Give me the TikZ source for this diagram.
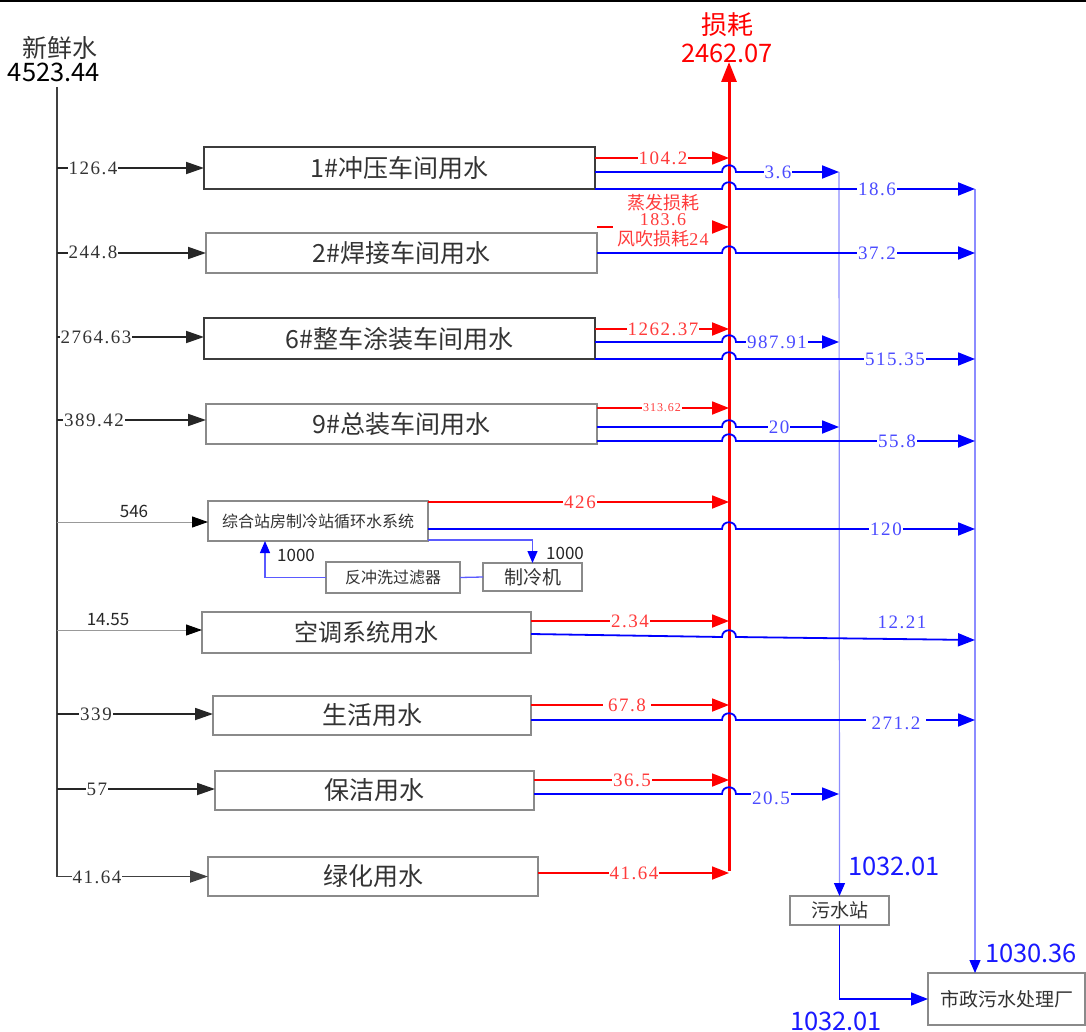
\documentclass[tikz,border=0pt]{standalone}
\usepackage{fontspec}
\usetikzlibrary{arrows.meta}
\newfontfamily\cjk{Noto Sans CJK SC}
\newfontfamily\numf[LetterSpace=8]{Liberation Serif}
\newcommand\setfs[1]{\fontsize{#1}{#1}\selectfont}
\definecolor{rd}{HTML}{FF0000}
\definecolor{rdt}{HTML}{FF3B3B}
\definecolor{bl}{HTML}{0000FF}
\definecolor{blt}{HTML}{4B4BFF}
\definecolor{blv}{HTML}{8C8CFF}
\definecolor{blm}{HTML}{5A5AFF}
\definecolor{gtxt}{HTML}{333333}
\definecolor{gbox}{HTML}{8A8A8A}
\definecolor{dbox}{HTML}{3C3C3C}
\tikzset{
  box/.style={draw=gbox,line width=1.3pt,inner sep=0pt,outer sep=0pt,text=gtxt,font=\cjk\setfs{25}},
  dbox/.style={box,draw=dbox,line width=2pt},
  inarr/.style={draw=black!85,line width=1.8pt,-{Triangle[length=18pt,width=12pt]}},
  thinin/.style={draw=black!40,line width=1pt,-{Triangle[length=16pt,width=11pt,color=black]}},
  rarr/.style={draw=rd,line width=1.8pt,-{Triangle[length=17pt,width=13pt]}},
  barr/.style={draw=bl,line width=1.8pt,-{Triangle[length=17pt,width=13pt]}},
  bv/.style={draw=blv,line width=1.2pt},
  nlab/.style={fill=white,inner sep=1pt,font=\numf\setfs{19},text=gtxt},
  rlab/.style={nlab,text=rdt},
  blab/.style={nlab,text=blt},
  slab/.style={inner sep=0pt,font=\cjk\setfs{17},text=black!85},
  biglab/.style={inner sep=0pt,font=\cjk\setfs{25.5}},
  rcjk/.style={inner sep=0pt,text=rdt,font=\cjk\setfs{18}}
}
\begin{document}
\begin{tikzpicture}[x=1pt,y=-1pt]
\useasboundingbox (0,0) rectangle (1086,1032);
\fill[white] (0,0) rectangle (1086,1032);
\draw[black,line width=2pt] (0,1) -- (1086,1);

% fresh water
\node[inner sep=0pt,font=\cjk\setfs{25},text=gtxt] (fwlab) at (60,48) {新鲜水};
\node[biglab,text=black] (fwval) at (54,72) {4523.44};
\coordinate (fwTop) at (57,87);

% loss trunk
\coordinate (lossTop) at (729,62);
\coordinate (lossBot) at (729,871);
\node[inner sep=0pt,font=\cjk\setfs{26},text=rd] (losslab) at (727,25) {损耗};

% collectors
\coordinate (sewTop) at (839,172);
\coordinate (munTop) at (975,189);

% boxes
\node[dbox,minimum width=391pt,minimum height=42pt] (b1) at (399.5,168) {1\#冲压车间用水};
\node[box,minimum width=391pt,minimum height=40pt] (b2) at (401.5,253) {2\#焊接车间用水};
\node[dbox,minimum width=391pt,minimum height=41pt] (b3) at (399.5,338.5) {6\#整车涂装车间用水};
\node[box,minimum width=391pt,minimum height=40pt] (b4) at (401.5,424) {9\#总装车间用水};
\node[box,minimum width=220pt,minimum height=40pt,font=\cjk\setfs{16}] (b5) at (318,521) {综合站房制冷站循环水系统};
\node[box,minimum width=134pt,minimum height=31pt,font=\cjk\setfs{16}] (fl) at (393,577.5) {反冲洗过滤器};
\node[box,minimum width=99pt,minimum height=28pt,font=\cjk\setfs{19}] (ch) at (532.5,577) {制冷机};
\node[box,minimum width=329pt,minimum height=41pt,font=\cjk\setfs{24}] (b6) at (366.5,632.5) {空调系统用水};
\node[box,minimum width=318pt,minimum height=39pt] (b7) at (372,715.5) {生活用水};
\node[box,minimum width=319pt,minimum height=39pt] (b8) at (374.5,790.5) {保洁用水};
\node[box,minimum width=330pt,minimum height=39pt] (b9) at (373,876.5) {绿化用水};
\node[box,minimum width=99pt,minimum height=29pt,font=\cjk\setfs{19}] (sew) at (839.5,910.5) {污水站};
\node[box,minimum width=157pt,minimum height=52pt,font=\cjk\setfs{19}] (muni) at (1006.5,999) {市政污水处理厂};

% fresh water trunk and inputs
\draw[inarr,draw=black!75] (fwTop) |- (b9.west);
\draw[inarr] (b1.west -| fwTop) -- (b1.west);
\draw[inarr] (b2.west -| fwTop) -- (b2.west);
\draw[inarr] ([yshift=1.5pt]b3.west -| fwTop) -- ([yshift=1.5pt]b3.west);
\draw[inarr] ([yshift=4pt]b4.west -| fwTop) -- ([yshift=4pt]b4.west);
\draw[thinin] ([yshift=-1pt]b5.west -| fwTop) -- ([yshift=-1pt]b5.west);
\draw[thinin] ([yshift=2.5pt]b6.west -| fwTop) -- ([yshift=2.5pt]b6.west);
\draw[inarr] ([yshift=1.5pt]b7.west -| fwTop) -- ([yshift=1.5pt]b7.west);
\draw[inarr] ([yshift=1.5pt]b8.west -| fwTop) -- ([yshift=1.5pt]b8.west);
\node[nlab] at (93,168) {126.4};
\node[nlab] at (93,252) {244.8};
\node[nlab] at (96,337) {2764.63};
\node[nlab] at (94,420) {389.42};
\node[slab] at (134,511) {546};
\node[slab] at (108,620) {14.55};
\node[nlab] at (96,714) {339};
\node[nlab] at (97,789) {57};
\node[nlab] at (97,877) {41.64};

% loss trunk arrow
\draw[draw=rd,line width=3pt,-{Triangle[length=20pt,width=15pt]}] (lossBot) -- (lossTop);
\node[biglab,text=rd] (lossval) at (727,53) {2462.07};

% collectors
\draw[bv,-{Triangle[length=13pt,width=11pt,color=bl]}] (sewTop) -- (sew.north);
\draw[bv,-{Triangle[length=13pt,width=11pt,color=bl]}] (munTop) -- (munTop |- muni.north);
\draw[barr,line width=1.6pt] (sew.south) |- (muni.west);
\node[biglab,text=bl!90] at (894,866) {1032.01};
\node[biglab,text=bl!90] at (836,1021) {1032.01};
\node[biglab,text=bl!90] at (1031,953) {1030.36};

% row 1
\draw[rarr] ([yshift=10pt]b1.east) -- ([yshift=10pt]b1.east -| lossTop);
\node[rlab] at (663,158) {104.2};
\draw[barr] ([yshift=-4pt]b1.east) -- (722,172) .. controls (722,163) and (736,163) .. (736,172) -- (sewTop);
\node[blab] at (778,172) {3.6};
\draw[barr] (b1.south east) -- (722,189) .. controls (722,180) and (736,180) .. (736,189) -- (munTop);
\node[blab] at (877,189) {18.6};

% row 2
\draw[draw=rd,line width=1.8pt] ([yshift=6pt]b2.north east) -- ([xshift=16pt,yshift=6pt]b2.north east);
\draw[rarr] ([xshift=-16pt,yshift=6pt]b2.north east -| lossTop) -- ([yshift=6pt]b2.north east -| lossTop);
\node[rcjk] at (663,203) {蒸发损耗};
\node[rcjk,font=\numf\setfs{18}] at (663,220) {183.6};
\node[rcjk] at (663,239) {风吹损耗{\numf 24}};
\draw[barr] (b2.east) -- (722,253) .. controls (722,244) and (736,244) .. (736,253) -- (b2.east -| munTop);
\node[blab] at (877,253) {37.2};

% row 3
\draw[rarr] ([yshift=9.5pt]b3.east) -- ([yshift=9.5pt]b3.east -| lossTop);
\node[rlab] at (663,329) {1262.37};
\draw[barr] ([yshift=-3.5pt]b3.east) -- (722,342) .. controls (722,333) and (736,333) .. (736,342) -- ([yshift=-3.5pt]b3.east -| sewTop);
\node[blab] at (777,342) {987.91};
\draw[barr] (b3.south east) -- (722,359) .. controls (722,350) and (736,350) .. (736,359) -- (b3.south east -| munTop);
\node[blab] at (895,359) {515.35};

% row 4
\draw[rarr] ([yshift=16pt]b4.east) -- ([yshift=16pt]b4.east -| lossTop);
\node[rlab,font=\numf\setfs{12}] at (662,408) {313.62};
\draw[barr] ([yshift=-3pt]b4.east) -- (722,427) .. controls (722,418) and (736,418) .. (736,427) -- ([yshift=-3pt]b4.east -| sewTop);
\node[blab] at (779,427) {20};
\draw[barr] ([yshift=-17pt]b4.east) -- (722,441) .. controls (722,432) and (736,432) .. (736,441) -- ([yshift=-17pt]b4.east -| munTop);
\node[blab] at (897,441) {55.8};

% row 5
\draw[rarr] ([yshift=-1pt]b5.north east) -- ([yshift=-1pt]b5.north east -| lossTop);
\node[rlab] at (580,502) {426};
\draw[barr] ([yshift=-8pt]b5.east) -- (722,529) .. controls (722,520) and (736,520) .. (736,529) -- ([yshift=-8pt]b5.east -| munTop);
\node[blab] at (886,529) {120};
\draw[draw=blm,line width=1.3pt,-{Triangle[length=12pt,width=10pt,color=bl]}] ([yshift=1pt]b5.south east) -| (ch.north);
\draw[draw=blm,line width=1.3pt] (ch.west) -- (fl.east);
\draw[draw=blm,line width=1.3pt,-{Triangle[length=12pt,width=10pt,color=bl]}] (fl.west) -| ([xshift=57pt]b5.south west);
\node[slab] at (565,553) {1000};
\node[slab] at (296,555) {1000};

% row 6
\draw[rarr] ([yshift=11.5pt]b6.east) -- ([yshift=11.5pt]b6.east -| lossTop);
\node[rlab] at (630,621) {2.34};
\draw[barr] ([yshift=-1.5pt]b6.east) -- (722,637) .. controls (722,628) and (736,628) .. (736,637) -- ([yshift=-7.5pt]b6.east -| munTop);
\node[blab,fill=none] at (902,622) {12.21};

% row 7
\draw[rarr] ([yshift=10.5pt]b7.east) -- ([yshift=10.5pt]b7.east -| lossTop);
\node[rlab,inner xsep=5pt] at (627,705) {67.8};
\draw[barr] ([yshift=-4.5pt]b7.east) -- (722,720) .. controls (722,711) and (736,711) .. (736,720) -- ([yshift=-4.5pt]b7.east -| munTop);
\node[blab,inner xsep=6pt] at (896,723) {271.2};

% row 8
\draw[rarr] ([yshift=10.5pt]b8.east) -- ([yshift=10.5pt]b8.east -| lossTop);
\node[rlab] at (632,780) {36.5};
\draw[barr] ([yshift=-3.5pt]b8.east) -- (722,794) .. controls (722,785) and (736,785) .. (736,794) -- ([yshift=-3.5pt]b8.east -| sewTop);
\node[blab] at (771,798) {20.5};

% row 9
\draw[rarr] ([yshift=3.5pt]b9.east) -- ([yshift=3.5pt]b9.east -| lossTop);
\node[rlab] at (634,873) {41.64};
\end{tikzpicture}
\end{document}
